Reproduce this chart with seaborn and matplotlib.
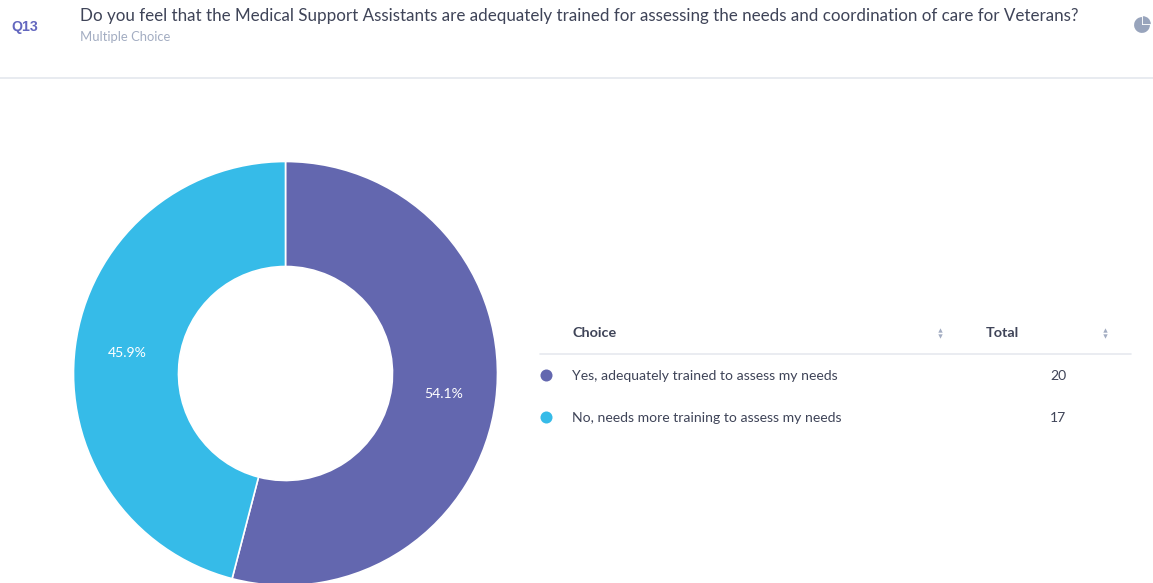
import matplotlib
matplotlib.use("Agg")
import matplotlib.pyplot as plt
import seaborn as sns

question_id = "Q13"
question = ("Do you feel that the Medical Support Assistants are adequately trained "
            "for assessing the needs and coordination of care for Veterans?")
question_type = "Multiple Choice"
choices = ["Yes, adequately trained to assess my needs",
           "No, needs more training to assess my needs"]
totals = [20, 17]
slice_colors = ["#6367AF", "#36BBE8"]
header_choice = "Choice"
header_total = "Total"

W, H = 1153, 583
sns.set_theme(style="white")
plt.rcParams["font.family"] = ["Lato", "Open Sans", "DejaVu Sans"]

fig = plt.figure(figsize=(W / 100, H / 100), dpi=100, facecolor="white")

# Page-level overlay measured in pixels from the top left
page = fig.add_axes([0, 0, 1, 1])
page.set_xlim(0, W)
page.set_ylim(H, 0)
page.axis("off")

INK = "#3F4458"
MUTED = "#A3ADC2"
RULE = "#E6E9EF"

page.text(11, 27.5, question_id, fontsize=10.2, fontweight="bold", color="#6367BF",
          family=["Liberation Sans"], va="center")
page.text(80, 15.5, question, fontsize=12.26, color=INK, va="center")
page.text(80, 37.3, question_type, fontsize=9.4, color=MUTED, va="center")
page.plot([0, W], [78, 78], color=RULE, lw=1.3)

# Small pie glyph in the header corner, its quarter slice pulled away
icon = fig.add_axes([1133 / W, 1 - 34 / H, 18 / W, 18 / H])
icon.pie([25, 75], colors=["#98A4BC", "#98A4BC"], startangle=90, counterclock=False,
         radius=0.88, explode=[0.14, 0], wedgeprops={"linewidth": 0})
icon.set_xlim(-1, 1)
icon.set_ylim(-1, 1)

# Donut, with its lower edge running slightly past the figure
cx, cy, r = 285.5, 373.5, 212
donut = fig.add_axes([(cx - r) / W, 1 - (cy + r) / H, 2 * r / W, 2 * r / H])
donut.pie(totals, colors=slice_colors, startangle=90, counterclock=False, radius=1,
          autopct="%.1f%%", pctdistance=0.7525,
          textprops={"color": "white", "fontsize": 10.1},
          wedgeprops={"width": 1 - 107 / r, "edgecolor": "white", "linewidth": 1.2})
donut.set_xlim(-1, 1)
donut.set_ylim(-1, 1)
donut.set_aspect("equal")
donut.patch.set_alpha(0)

# Legend table
page.text(572.5, 333, header_choice, fontsize=10.4, fontweight="bold", color=INK, va="center")
page.text(985.5, 333, header_total, fontsize=10.4, fontweight="bold", color=INK, va="center")
page.plot([540, 1131], [353.5, 353.5], color=RULE, lw=1.2)
for x in (940.3, 1105.3):
    page.scatter([x], [329.5], marker="^", s=10, color=MUTED, linewidths=0)
    page.scatter([x], [335.5], marker="v", s=10, color=MUTED, linewidths=0)

for y, label, total, color in zip((375.8, 417.6), choices, totals, slice_colors):
    page.scatter([546], [y - 0.5], s=75, color=color, linewidths=0)
    page.text(572.5, y, label, fontsize=10.1, color=INK, va="center")
    page.text(1050, y, str(total), fontsize=10.1, color=INK, va="center")

fig.savefig("out.png", dpi=100, facecolor="white")
